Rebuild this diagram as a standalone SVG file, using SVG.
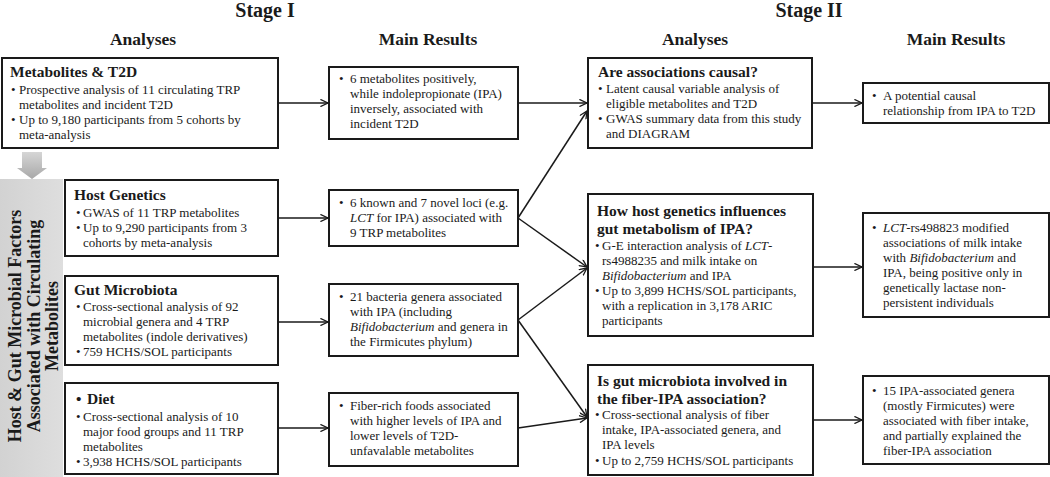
<svg xmlns="http://www.w3.org/2000/svg" width="1050" height="477" viewBox="0 0 1050 477">
<style>
text{font-family:"Liberation Serif","Times New Roman",serif;fill:#1a1a1a}
.b{font-size:13px}
.t{font-size:15.5px;font-weight:bold}
.h{font-size:17.5px;font-weight:bold;text-anchor:middle}
.s{font-size:20px;font-weight:bold;text-anchor:middle}
.p{font-size:18px;font-weight:bold;text-anchor:middle}
.box{fill:#fff;stroke:#1a1a1a;stroke-width:2}
.c{stroke:#1a1a1a;stroke-width:1.5;fill:none;marker-end:url(#ah)}
</style>
<defs>
<marker id="ah" viewBox="0 0 10 10" refX="9.5" refY="5" markerWidth="9" markerHeight="8" markerUnits="userSpaceOnUse" orient="auto">
<path d="M0,0.5 L9.5,5 L0,9.5" fill="none" stroke="#1a1a1a" stroke-width="1.6"/>
</marker>
<linearGradient id="ga" x1="0" y1="0" x2="0" y2="1">
<stop offset="0" stop-color="#d6d6d6"/>
<stop offset="1" stop-color="#a8a8a8"/>
</linearGradient>
<linearGradient id="gp" x1="0" y1="0" x2="1" y2="0">
<stop offset="0" stop-color="#d2d2d2"/>
<stop offset="1" stop-color="#dedede"/>
</linearGradient>
</defs>

<g id="headers">
<text class="s" x="265" y="17">Stage I</text>
<text class="s" x="809" y="17">Stage II</text>
<text class="h" x="143" y="45">Analyses</text>
<text class="h" x="428" y="45">Main Results</text>
<text class="h" x="695" y="45">Analyses</text>
<text class="h" x="956" y="45">Main Results</text>
</g>

<g id="panel">
<rect x="0" y="179" width="63" height="298" fill="url(#gp)"/>
<polygon points="22,152 42,152 42,168 47,168 32,179 17,168 22,168" fill="url(#ga)"/>
<text class="p" transform="translate(21,326) rotate(-90)">Host &amp; Gut Microbial Factors</text>
<text class="p" transform="translate(40,326) rotate(-90)">Associated with Circulating</text>
<text class="p" transform="translate(58,326) rotate(-90)">Metabolites</text>
</g>

<g id="n1">
<rect class="box" x="2" y="58" width="276" height="90"/>
<text class="t" x="10" y="77">Metabolites &amp; T2D</text>
<text class="b" x="11" y="94">•</text>
<text class="b" x="19" y="94">Prospective analysis of 11 circulating TRP</text>
<text class="b" x="19" y="109">metabolites and incident T2D</text>
<text class="b" x="11" y="124">•</text>
<text class="b" x="19" y="124">Up to 9,180 participants from 5 cohorts by</text>
<text class="b" x="19" y="139">meta-analysis</text>
</g>

<g id="n2">
<rect class="box" x="329" y="67" width="189" height="72"/>
<text class="b" x="339" y="83">•</text>
<text class="b" x="350" y="83">6 metabolites positively,</text>
<text class="b" x="350" y="98">while indolepropionate (IPA)</text>
<text class="b" x="350" y="113">inversely, associated  with</text>
<text class="b" x="350" y="128">incident T2D</text>
</g>

<g id="n3">
<rect class="box" x="588" y="58" width="224" height="90"/>
<text class="t" x="598" y="77">Are associations causal?</text>
<text class="b" x="598" y="93">•</text>
<text class="b" x="606" y="93">Latent causal variable analysis of</text>
<text class="b" x="606" y="108">eligible metabolites and T2D</text>
<text class="b" x="598" y="123">•</text>
<text class="b" x="606" y="123">GWAS summary data from this study</text>
<text class="b" x="606" y="138">and  DIAGRAM</text>
</g>

<g id="n4">
<rect class="box" x="863" y="83" width="186" height="40"/>
<text class="b" x="872" y="100">•</text>
<text class="b" x="883" y="100">A potential causal</text>
<text class="b" x="883" y="115">relationship from IPA to T2D</text>
</g>

<g id="n5">
<rect class="box" x="65" y="180" width="213" height="76"/>
<text class="t" x="74" y="200">Host Genetics</text>
<text class="b" x="76" y="217">•</text>
<text class="b" x="83" y="217">GWAS of 11 TRP metabolites</text>
<text class="b" x="76" y="232">•</text>
<text class="b" x="83" y="232">Up to 9,290 participants from 3</text>
<text class="b" x="83" y="247">cohorts by meta-analysis</text>
</g>

<g id="n6">
<rect class="box" x="329" y="190" width="189" height="56"/>
<text class="b" x="339" y="207">•</text>
<text class="b" x="350" y="207">6 known and 7 novel loci (e.g.</text>
<text class="b" x="350" y="222"><tspan font-style="italic">LCT</tspan> for IPA) associated with</text>
<text class="b" x="350" y="237">9 TRP metabolites</text>
</g>

<g id="n7">
<rect class="box" x="65" y="276" width="213" height="89"/>
<text class="t" x="74" y="295">Gut Microbiota</text>
<text class="b" x="76" y="311">•</text>
<text class="b" x="83" y="311">Cross-sectional analysis of 92</text>
<text class="b" x="83" y="326">microbial genera and 4 TRP</text>
<text class="b" x="83" y="341">metabolites (indole derivatives)</text>
<text class="b" x="76" y="356">•</text>
<text class="b" x="83" y="356">759 HCHS/SOL  participants</text>
</g>

<g id="n8">
<rect class="box" x="329" y="284" width="189" height="72"/>
<text class="b" x="339" y="301">•</text>
<text class="b" x="350" y="301">21 bacteria genera associated</text>
<text class="b" x="350" y="316">with IPA (including</text>
<text class="b" x="350" y="331"><tspan font-style="italic">Bifidobacterium</tspan> and genera in</text>
<text class="b" x="350" y="346">the Firmicutes phylum)</text>
</g>

<g id="n9">
<rect class="box" x="65" y="383" width="213" height="91"/>
<text class="t" x="76" y="404">•</text>
<text class="t" x="87" y="404">Diet</text>
<text class="b" x="76" y="421">•</text>
<text class="b" x="83" y="421">Cross-sectional analysis of 10</text>
<text class="b" x="83" y="436">major food groups and 11 TRP</text>
<text class="b" x="83" y="451">metabolites</text>
<text class="b" x="76" y="466">•</text>
<text class="b" x="83" y="466">3,938 HCHS/SOL  participants</text>
</g>

<g id="n10">
<rect class="box" x="329" y="393" width="189" height="73"/>
<text class="b" x="339" y="410">•</text>
<text class="b" x="350" y="410">Fiber-rich foods associated</text>
<text class="b" x="350" y="425">with higher levels of IPA  and</text>
<text class="b" x="350" y="440">lower levels of T2D-</text>
<text class="b" x="350" y="455">unfavalable metabolites</text>
</g>

<g id="n11">
<rect class="box" x="588" y="194" width="225" height="142"/>
<text class="t" x="597" y="216">How host genetics influences</text>
<text class="t" x="597" y="234">gut metabolism of IPA?</text>
<text class="b" x="595" y="250">•</text>
<text class="b" x="602" y="250">G-E interaction analysis of <tspan font-style="italic">LCT</tspan>-</text>
<text class="b" x="602" y="265">rs4988235 and milk intake on</text>
<text class="b" x="602" y="280"><tspan font-style="italic">Bifidobacterium</tspan> and IPA</text>
<text class="b" x="595" y="295">•</text>
<text class="b" x="602" y="295">Up to 3,899 HCHS/SOL participants,</text>
<text class="b" x="602" y="310">with a replication in 3,178 ARIC</text>
<text class="b" x="602" y="325">participants</text>
</g>

<g id="n12">
<rect class="box" x="588" y="365" width="225" height="110"/>
<text class="t" x="597" y="386">Is gut microbiota  involved in</text>
<text class="t" x="597" y="404">the fiber-IPA association?</text>
<text class="b" x="595" y="419">•</text>
<text class="b" x="602" y="419">Cross-sectional analysis of fiber</text>
<text class="b" x="602" y="434">intake, IPA-associated genera, and</text>
<text class="b" x="602" y="449">IPA levels</text>
<text class="b" x="595" y="465">•</text>
<text class="b" x="602" y="465">Up to 2,759 HCHS/SOL participants</text>
</g>

<g id="n13">
<rect class="box" x="863" y="213" width="186" height="104"/>
<text class="b" x="872" y="232">•</text>
<text class="b" x="883" y="232"><tspan font-style="italic">LCT</tspan>-rs498823 modified</text>
<text class="b" x="883" y="247">associations of milk intake</text>
<text class="b" x="883" y="262">with <tspan font-style="italic">Bifidobacterium</tspan> and</text>
<text class="b" x="883" y="277">IPA, being positive only in</text>
<text class="b" x="883" y="292">genetically  lactase non-</text>
<text class="b" x="883" y="307">persistent individuals</text>
</g>

<g id="n14">
<rect class="box" x="863" y="376" width="186" height="88"/>
<text class="b" x="872" y="395">•</text>
<text class="b" x="883" y="395">15 IPA-associated  genera</text>
<text class="b" x="883" y="410">(mostly Firmicutes) were</text>
<text class="b" x="883" y="425">associated with fiber intake,</text>
<text class="b" x="883" y="440">and partially explained  the</text>
<text class="b" x="883" y="455">fiber-IPA  association</text>
</g>

<g id="connectors">
<line class="c" x1="278" y1="103" x2="328" y2="103"/>
<line class="c" x1="518" y1="103" x2="587" y2="103"/>
<line class="c" x1="812" y1="103" x2="862" y2="103"/>
<line class="c" x1="278" y1="218" x2="328" y2="218"/>
<line class="c" x1="278" y1="322" x2="328" y2="322"/>
<line class="c" x1="278" y1="428" x2="328" y2="428"/>
<line class="c" x1="518" y1="218" x2="587" y2="111"/>
<line class="c" x1="518" y1="218" x2="587" y2="267"/>
<line class="c" x1="518" y1="320" x2="587" y2="268"/>
<line class="c" x1="518" y1="320" x2="587" y2="417"/>
<line class="c" x1="518" y1="428" x2="587" y2="418"/>
<line class="c" x1="813" y1="267" x2="862" y2="267"/>
<line class="c" x1="813" y1="420" x2="862" y2="420"/>
</g>
</svg>
